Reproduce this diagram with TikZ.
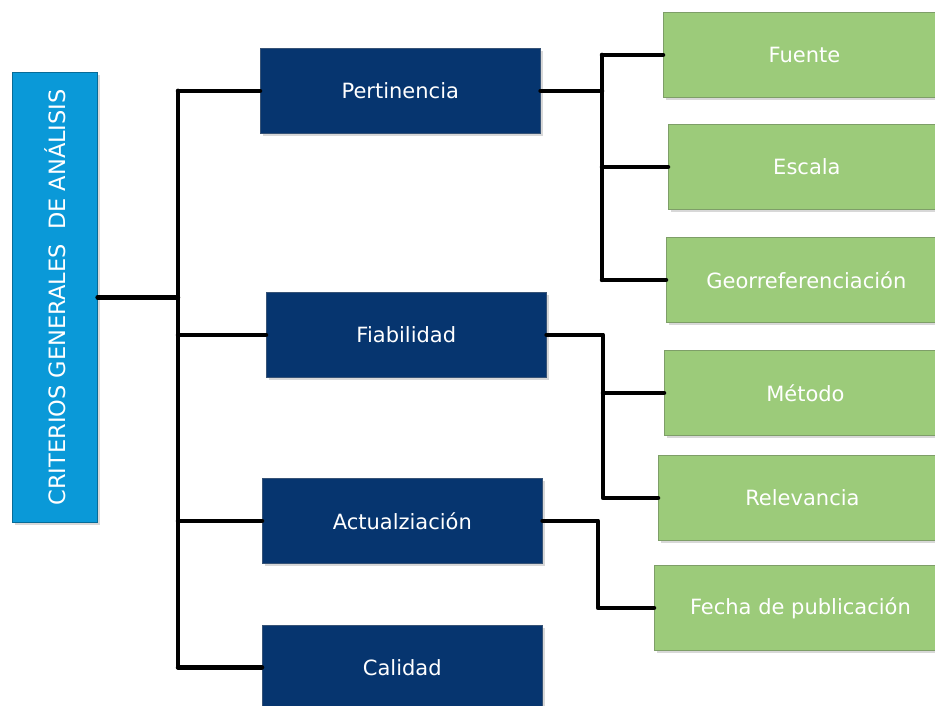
\documentclass[tikz,border=0pt]{standalone}
\usepackage{fontspec}
\setmainfont{DejaVu Sans}
\usetikzlibrary{shadows}
\definecolor{cyanbox}{HTML}{0A99D8}
\definecolor{navybox}{HTML}{06356F}
\definecolor{greenbox}{HTML}{9CCB7A}
\definecolor{greenedge}{HTML}{7E9E68}
\begin{document}
\begin{tikzpicture}[x=1pt,y=-1pt,
  boxbase/.style={anchor=north west, inner sep=0pt, text=white,
    font=\fontsize{21}{25}\selectfont,
    drop shadow={opacity=0.3, shadow xshift=2.5pt, shadow yshift=-2.5pt}},
  mainbox/.style={boxbase, fill=cyanbox, draw=cyanbox!70!black, line width=0.6pt},
  navy/.style={boxbase, fill=navybox, draw=navybox!60!gray, line width=0.6pt,
    minimum width=280pt, minimum height=85pt},
  leaf/.style={boxbase, fill=greenbox, draw=greenedge, line width=0.8pt,
    minimum height=85pt},
  link/.style={line width=4.5pt, black, line cap=round, line join=round}]
\useasboundingbox (0,0) rectangle (935,706);
\clip (0,0) rectangle (935,706);
\fill[white] (0,0) rectangle (935,706);

% main box
\node[mainbox, minimum width=85pt, minimum height=450pt] (main) at (12,72) {};
\node[text=white, font=\fontsize{22.5}{26}\selectfont, rotate=90] (maintext) at (main.center) {CRITERIOS GENERALES\ \ DE ANÁLISIS};

% second level
\node[navy] (pert) at (260,48) {Pertinencia};
\node[navy] (fiab) at (266,292) {Fiabilidad};
\node[navy] (actu) at (262,478) {Actualziación};
\node[navy, minimum height=84pt] (cali) at (262,625) {Calidad};

% leaves
\node[leaf, minimum width=282pt] (fuente) at (663,12) {Fuente};
\node[leaf, minimum width=277pt] (escala) at (668,124) {Escala};
\node[leaf, minimum width=280pt] (geo) at (666,237) {Georreferenciación};
\node[leaf, minimum width=282pt] (metodo) at (664,350) {Método};
\node[leaf, minimum width=288pt] (relev) at (658,455) {Relevancia};
\node[leaf, minimum width=292pt] (fecha) at (654,565) {Fecha de publicación};

% junction columns
\coordinate (ja) at (178,0);
\coordinate (jb) at (602,0);
\coordinate (jc) at (603,0);
\coordinate (jd) at (598,0);

% main connectors
\draw[link] (main.east) -- (ja |- main.east);
\draw[link] (ja |- pert.west) -- (ja |- cali.west);
\draw[link] (ja |- pert.west) -- (pert.west);
\draw[link] (ja |- fiab.west) -- (fiab.west);
\draw[link] (ja |- actu.west) -- (actu.west);
\draw[link] (ja |- cali.west) -- (cali.west);

% Pertinencia
\draw[link] (pert.east) -- (jb |- pert.east);
\draw[link] (jb |- fuente.west) -- (jb |- geo.west);
\draw[link] (jb |- fuente.west) -- (fuente.west);
\draw[link] (jb |- escala.west) -- (escala.west);
\draw[link] (jb |- geo.west) -- (geo.west);

% Fiabilidad
\draw[link] (fiab.east) -- (jc |- fiab.east) -- (jc |- relev.west) -- (relev.west);
\draw[link] (jc |- metodo.west) -- (metodo.west);

% Actualizacion
\draw[link] (actu.east) -- (jd |- actu.east) -- (jd |- fecha.west) -- (fecha.west);
\end{tikzpicture}
\end{document}
